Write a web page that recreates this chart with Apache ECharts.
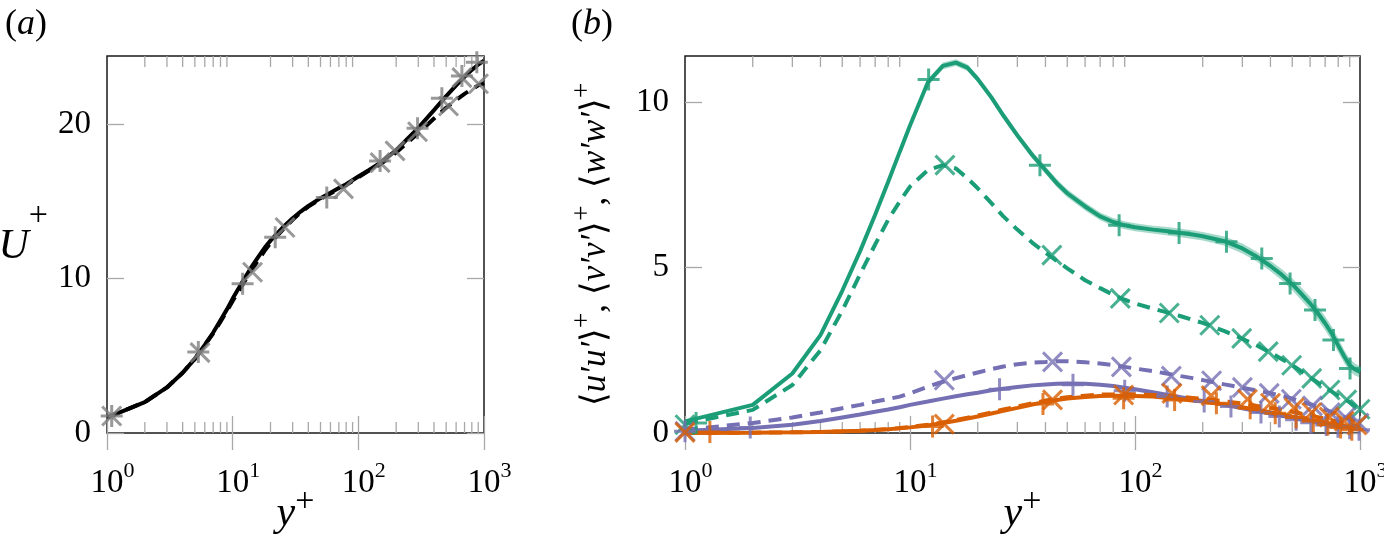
<!DOCTYPE html>
<html><head><meta charset="utf-8">
<script src="https://cdn.jsdelivr.net/npm/echarts@6/dist/echarts.min.js"></script>
<style>html,body{margin:0;padding:0;background:#fff}#c{width:1384px;height:540px}</style>
</head><body><div id="c"></div>
<script>
// ---------- Panel (a): mean velocity ----------
const yPlusA = [1,2,3,4,5,6,7,8,9,10,12,14,16,18,20,25,30,35,40,50,60,70,80,100,120,150,200,250,300,400,500,600,700,800,900,1000];
const uSolid = [1.0,2.0,2.95,3.9,4.8,5.7,6.5,7.3,8.0,8.7,9.8,10.7,11.4,12.0,12.45,13.3,13.9,14.35,14.7,15.2,15.55,15.85,16.1,16.6,17.0,17.5,18.3,19.1,19.75,20.9,21.8,22.5,23.05,23.5,23.85,24.1];
const uDashed = [1.0,2.0,2.95,3.9,4.8,5.7,6.45,7.2,7.9,8.55,9.6,10.5,11.2,11.8,12.3,13.15,13.8,14.3,14.65,15.15,15.5,15.8,16.05,16.55,16.95,17.4,18.15,18.85,19.4,20.35,21.05,21.55,21.95,22.25,22.5,22.65];
const plusA_x = [1.09,5.33,12.0,21.8,56.1,149,296,462,667,877];
const plusA_u = [1.1,5.25,9.66,12.67,15.25,17.6,19.72,21.66,23.1,24.0];
const crossA_x = [1.09,5.5,14.4,26.1,76.2,149,196,296,522,667,904];
const crossA_u = [1.1,5.2,10.4,13.3,15.8,17.5,18.26,19.5,21.16,23.0,22.6];

// ---------- Panel (b): Reynolds stresses ----------
const yPlusB = [1,2,3,4,5,6,7,8,9,10,12,14,16,18,20,23,26,30,35,40,45,50,60,70,80,90,100,120,140,160,180,200,250,300,350,400,450,500,550,600,650,700,750,800,850,900,950,1000];
const uuSolid = [0.35,0.85,1.8,2.96,4.3,5.5,6.6,7.6,8.5,9.3,10.6,11.1,11.2,11.05,10.7,10.15,9.6,9.0,8.4,7.95,7.55,7.25,6.85,6.55,6.38,6.28,6.22,6.15,6.1,6.05,6.0,5.95,5.8,5.58,5.32,5.05,4.78,4.5,4.2,3.92,3.62,3.32,3.0,2.65,2.32,2.05,1.92,1.85];
const uuBandHalf = [0.03,0.04,0.05,0.06,0.07,0.08,0.08,0.09,0.09,0.1,0.1,0.1,0.1,0.1,0.1,0.1,0.1,0.1,0.11,0.11,0.12,0.12,0.12,0.12,0.12,0.12,0.12,0.12,0.13,0.13,0.13,0.13,0.14,0.15,0.15,0.16,0.17,0.18,0.19,0.2,0.2,0.21,0.21,0.21,0.2,0.19,0.18,0.17];
const uuDashed = [0.28,0.7,1.45,2.5,3.7,4.8,5.7,6.45,7.0,7.45,7.95,8.1,8.0,7.7,7.4,6.95,6.55,6.15,5.75,5.45,5.2,4.98,4.62,4.38,4.18,4.03,3.92,3.76,3.64,3.53,3.42,3.33,3.08,2.85,2.64,2.43,2.23,2.05,1.86,1.68,1.52,1.38,1.25,1.13,1.03,0.93,0.82,0.7];
const vvSolid = [0.0,0.01,0.02,0.03,0.05,0.07,0.09,0.11,0.14,0.17,0.23,0.3,0.37,0.44,0.5,0.59,0.67,0.76,0.86,0.94,1.0,1.04,1.09,1.12,1.13,1.13,1.12,1.1,1.06,1.02,0.98,0.95,0.86,0.78,0.7,0.63,0.56,0.5,0.45,0.4,0.35,0.31,0.27,0.24,0.21,0.18,0.15,0.13];
const vvDashed = [0.0,0.01,0.02,0.03,0.05,0.07,0.09,0.12,0.15,0.18,0.25,0.32,0.39,0.46,0.53,0.62,0.71,0.8,0.9,0.98,1.04,1.08,1.13,1.16,1.17,1.18,1.17,1.15,1.12,1.09,1.06,1.03,0.96,0.89,0.82,0.76,0.7,0.64,0.58,0.53,0.48,0.43,0.38,0.34,0.3,0.26,0.22,0.19];
const wwSolid = [0.07,0.15,0.25,0.36,0.47,0.56,0.64,0.71,0.78,0.85,0.95,1.04,1.11,1.17,1.22,1.29,1.34,1.39,1.44,1.47,1.49,1.5,1.49,1.46,1.42,1.37,1.32,1.23,1.15,1.08,1.02,0.97,0.85,0.75,0.66,0.59,0.52,0.46,0.41,0.37,0.33,0.29,0.26,0.23,0.2,0.18,0.16,0.14];
const wwDashed = [0.1,0.3,0.47,0.62,0.75,0.85,0.95,1.03,1.1,1.2,1.4,1.55,1.66,1.75,1.83,1.93,2.01,2.08,2.13,2.15,2.17,2.17,2.14,2.1,2.05,2.0,1.95,1.87,1.79,1.72,1.66,1.6,1.47,1.37,1.28,1.2,1.12,1.04,0.95,0.87,0.79,0.71,0.63,0.56,0.49,0.43,0.37,0.32];

const plusUU_x = [1.12,12.1,37.8,85,157,255,366,489,631,762,903];
const plusUU_v = [0.3,10.69,8.1,6.28,6.05,5.78,5.28,4.52,3.72,2.81,1.95];
const crossUU_x = [1.0,14.3,42.7,86,142,215,298,391,497,610,736,873,1000];
const crossUU_v = [0.25,8.1,5.38,4.07,3.63,3.26,2.86,2.46,2.05,1.65,1.3,1.0,0.72];
const plusVV_x = [1.29,12.6,39,89,150,230,325,420,520,620,720,820,920];
const plusVV_v = [0.03,0.2,0.88,1.05,1.0,0.9,0.75,0.6,0.47,0.36,0.26,0.17,0.1];
const crossVV_x = [1,14.2,43,89,146,218,316,400,510,610,730,850,970];
const crossVV_v = [0.02,0.27,1.0,1.15,1.2,1.13,1.02,0.9,0.76,0.62,0.48,0.36,0.24];
const plusWW_x = [1.0,1.95,25,53,90,139,203,267,363,438,520,607,708,798,900,990];
const plusWW_v = [0.05,0.17,1.32,1.46,1.28,1.1,0.95,0.8,0.62,0.5,0.4,0.31,0.24,0.19,0.14,0.1];
const crossWW_x = [1,14.2,43,87,145,219,300,395,495,615,737,860,990];
const crossWW_v = [0.05,1.6,2.15,2.0,1.72,1.58,1.38,1.2,1.02,0.82,0.62,0.47,0.3];

// axis ticks
const minorTicks = [2,3,4,5,6,7,8,9,20,30,40,50,60,70,80,90,200,300,400,500,600,700,800,900];

const SERIF = "'Liberation Serif','Times New Roman',serif";
const GREEN = '#1b9e77', ORANGE = '#d95f02', PURPLE = '#7570b3', GRAY = '#7f7f7f';
const TICK = '#a8a8a8';
const PLUS = 'path://M10,0L10,20M0,10L20,10';
const CROSS = 'path://M0,0L20,20M0,20L20,0';

const zip = (xs, ys) => xs.map((x, i) => [x, ys[i]]);

const xLabel = {
  margin: 27,
  formatter: v => '{b|10}{s|' + Math.round(Math.log10(v)) + '}',
  rich: {
    b: {fontFamily: SERIF, fontSize: 33, color: '#000', padding: [0,0,0,11], lineHeight: 40, verticalAlign: 'bottom'},
    s: {fontFamily: SERIF, fontSize: 22, color: '#000', lineHeight: 22, verticalAlign: 'top'}
  }
};
const yLabel = {margin: 16, fontFamily: SERIF, fontSize: 33, color: '#000', showMaxLabel: false, verticalAlign: 'middle'};

function xAxisPair(gi) {
  const base = {type: 'log', logBase: 10, min: 1, max: 1000, splitNumber: 3, gridIndex: gi,
    axisLine: {show: false}, splitLine: {show: false},
    axisTick: {show: true, inside: true, length: 17, lineStyle: {color: TICK, width: 1.3}}};
  return [
    Object.assign({}, base, {position: 'bottom', axisLabel: xLabel,
      name: '{i|y}{s|+}', nameLocation: 'middle', nameGap: 52, nameMoveOverlap: false,
      nameTextStyle: {rich: {
        i: {fontFamily: SERIF, fontStyle: 'italic', fontSize: 42, color: '#000', lineHeight: 50, verticalAlign: 'bottom'},
        s: {fontFamily: SERIF, fontSize: 34, color: '#000', lineHeight: 40, verticalAlign: 'top'}}}}),
    Object.assign({}, base, {position: 'top', axisLabel: {show: false}})
  ];
}
function yAxisPair(gi, max, interval, nameObj) {
  const base = {type: 'value', min: 0, max: max, interval: interval, gridIndex: gi,
    axisLine: {show: false}, splitLine: {show: false},
    axisTick: {show: true, inside: true, length: 17, lineStyle: {color: TICK, width: 1.3}}};
  return [
    Object.assign({}, base, {position: 'left', axisLabel: yLabel}, nameObj),
    Object.assign({}, base, {position: 'right', axisLabel: {show: false}})
  ];
}

function minorTickSeries(xi, yi) {
  return {type: 'custom', xAxisIndex: xi, yAxisIndex: yi, silent: true, clip: false, z: 1,
    data: minorTicks.map(v => [v, 0]),
    renderItem(params, api) {
      const cs = params.coordSys;
      const x = api.coord([api.value(0), 0])[0];
      const st = {stroke: TICK, lineWidth: 1.3};
      return {type: 'group', children: [
        {type: 'line', shape: {x1: x, y1: cs.y + cs.height, x2: x, y2: cs.y + cs.height - 11}, style: st},
        {type: 'line', shape: {x1: x, y1: cs.y, x2: x, y2: cs.y + 11}, style: st}
      ]};
    }};
}
function bandSeries(xi, yi, xs, mid, half, color) {
  return {type: 'custom', xAxisIndex: xi, yAxisIndex: yi, silent: true, z: 2,
    data: [[xs[0], mid[0]]],
    renderItem(params, api) {
      const up = xs.map((x, i) => api.coord([x, mid[i] + half[i]]));
      const lo = xs.map((x, i) => api.coord([x, mid[i] - half[i]])).reverse();
      return {type: 'polygon', shape: {points: up.concat(lo)}, style: {fill: color}};
    }};
}
function lineS(xi, yi, xs, ys, color, dashed, z) {
  return {type: 'line', xAxisIndex: xi, yAxisIndex: yi, data: zip(xs, ys), symbol: 'none', showSymbol: false,
    smooth: false, z: z || 3, lineStyle: {color: color, width: 4, type: dashed ? [13, 8] : 'solid'}};
}
function markS(xi, yi, xs, ys, color, sym) {
  return {type: 'scatter', xAxisIndex: xi, yAxisIndex: yi, data: zip(xs, ys), symbol: sym,
    symbolSize: sym === PLUS ? 22 : 19, z: 5,
    itemStyle: {color: 'rgba(0,0,0,0)', borderColor: color, borderWidth: 3}};
}

const panelTitle = (t, left) => ({text: '{n|(}{i|' + t + '}{n|)}', left: left, top: 2, textStyle: {fontWeight: 'normal', rich: {
  n: {fontFamily: SERIF, fontSize: 36, fontWeight: 'normal', color: '#000'},
  i: {fontFamily: SERIF, fontStyle: 'italic', fontWeight: 'normal', fontSize: 36, color: '#000'}}}});

const gridStyle = {show: true, borderColor: '#1a1a1a', borderWidth: 1.5, backgroundColor: 'transparent', outerBoundsMode: 'none', containLabel: false};

const option = {
  animation: false,
  backgroundColor: '#fff',
  title: [panelTitle('a', 0), panelTitle('b', 566)],
  grid: [
    Object.assign({left: 107, top: 56, width: 377, height: 377}, gridStyle),
    Object.assign({left: 685, top: 56, width: 675, height: 377}, gridStyle)
  ],
  xAxis: xAxisPair(0).concat(xAxisPair(1)),
  yAxis: yAxisPair(0, 24.4, 10, {
      name: '{i|U}{s|+}\n{e| }', nameLocation: 'middle', nameRotate: 0, nameGap: 59,
      nameTextStyle: {rich: {
        i: {fontFamily: SERIF, fontStyle: 'italic', fontSize: 42, color: '#000', lineHeight: 68, verticalAlign: 'bottom'},
        s: {fontFamily: SERIF, fontSize: 34, color: '#000', lineHeight: 40, verticalAlign: 'top'},
        e: {fontFamily: SERIF, fontSize: 10, color: '#000', lineHeight: 22}}}
    }).concat(yAxisPair(1, 11.4, 5, {
      name: '{a|⟨}{i|u′u′}{a|⟩}{s|+}{a|, ⟨}{i|v′v′}{a|⟩}{s|+}{a|, ⟨}{i|w′w′}{a|⟩}{s|+}',
      nameLocation: 'middle', nameGap: 72,
      nameTextStyle: {rich: {
        a: {fontFamily: SERIF, fontSize: 35, color: '#000', lineHeight: 44, verticalAlign: 'bottom'},
        i: {fontFamily: SERIF, fontStyle: 'italic', fontSize: 35, color: '#000', lineHeight: 44, verticalAlign: 'bottom'},
        s: {fontFamily: SERIF, fontSize: 27, color: '#000', lineHeight: 22, verticalAlign: 'top'}}}
    })),
  series: [
    minorTickSeries(0, 0),
    minorTickSeries(2, 2),
    // panel a
    lineS(0, 0, yPlusA, uDashed, '#000', true, 3),
    lineS(0, 0, yPlusA, uSolid, '#000', false, 3),
    markS(0, 0, plusA_x, plusA_u, GRAY, PLUS),
    markS(0, 0, crossA_x, crossA_u, GRAY, CROSS),
    // panel b
    bandSeries(2, 2, yPlusB, uuSolid, uuBandHalf, 'rgba(27,158,119,0.38)'),
    lineS(2, 2, yPlusB, uuDashed, GREEN, true),
    lineS(2, 2, yPlusB, uuSolid, GREEN, false),
    lineS(2, 2, yPlusB, wwDashed, PURPLE, true),
    lineS(2, 2, yPlusB, wwSolid, PURPLE, false),
    lineS(2, 2, yPlusB, vvDashed, ORANGE, true),
    lineS(2, 2, yPlusB, vvSolid, ORANGE, false),
    markS(2, 2, plusUU_x, plusUU_v, GREEN, PLUS),
    markS(2, 2, crossUU_x, crossUU_v, GREEN, CROSS),
    markS(2, 2, plusWW_x, plusWW_v, PURPLE, PLUS),
    markS(2, 2, crossWW_x, crossWW_v, PURPLE, CROSS),
    markS(2, 2, plusVV_x, plusVV_v, ORANGE, PLUS),
    markS(2, 2, crossVV_x, crossVV_v, ORANGE, CROSS)
  ]
};
echarts.init(document.getElementById('c'), null, {renderer: 'canvas'}).setOption(option);
</script></body></html>
